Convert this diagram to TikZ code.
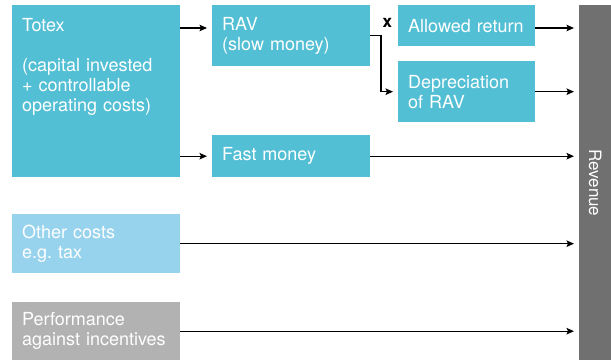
\documentclass[tikz,border=0pt]{standalone}
\usepackage{fontspec}
\setmainfont{TeX Gyre Heros}
\usepackage{graphicx}
\usetikzlibrary{arrows.meta}
\definecolor{totexblue}{HTML}{53BFD4}
\definecolor{otherblue}{HTML}{98D3EE}
\definecolor{perfgrey}{HTML}{B2B2B2}
\definecolor{revgrey}{HTML}{707070}

\begin{document}
\begin{tikzpicture}[
    x=1pt, y=-1pt,
    >={Stealth[length=7.5pt,width=6.5pt,inset=1.5pt]},
    st/.style={fill=totexblue, text=white, anchor=north west, align=left, inner xsep=10pt, inner ysep=0pt, font=\fontsize{18}{20}\selectfont},
    flow/.style={->, line width=1.4pt, shorten >=5pt},
  ]
    \useasboundingbox (0,0) rectangle (611,360);
    \node[st, text width=148pt, text height=26pt, text depth=146pt] (totex) at (12,5) {Totex\\[20pt](capital invested\\+ controllable\\operating costs)};
    \node[st, text width=138pt, minimum height=61pt] (rav) at (212,5) {RAV\\(slow money)};
    \node[st, text width=138pt, minimum height=42pt] (fast) at (212,135) {Fast money};
    \node[st, text width=117pt, minimum height=41pt] (allowed) at (398,5) {Allowed return};
    \node[st, text width=117pt, minimum height=61pt] (dep) at (398,61) {Depreciation\\of RAV};
    \node[st, fill=otherblue, text width=148pt, minimum height=59pt] (other) at (12,214) {Other costs\\e.g.\ tax};
    \node[st, fill=perfgrey, text width=148pt, minimum height=58pt] (perf) at (12,302) {Performance\\against incentives};
    \node[st, fill=revgrey, inner xsep=0pt, align=center, minimum width=32pt, minimum height=355pt, font=\fontsize{17}{20}\selectfont] (rev) at (579,5) {\rotatebox{-90}{Revenue}};

    \draw[flow] ([yshift=-23pt]totex.north east) -- ([yshift=-23pt]totex.north east -| rav.west);
    \draw[flow] (totex.east |- fast.west) -- (fast.west);
    \draw[flow] (rav.east) -- ++(10.5,0) node[anchor=south west, inner sep=0pt, xshift=1pt, yshift=7.5pt, font=\bfseries\fontsize{17}{17}\selectfont] (times) {x} |- (dep.west);
    \draw[flow] ([yshift=-23pt]allowed.north east) -- ([yshift=-23pt]allowed.north east -| rev.west);
    \draw[flow] (dep.east) -- (dep.east -| rev.west);
    \draw[flow] (fast.east) -- (fast.east -| rev.west);
    \draw[flow] (other.east) -- (other.east -| rev.west);
    \draw[flow] (perf.east) -- (perf.east -| rev.west);
  \end{tikzpicture}
\end{document}
